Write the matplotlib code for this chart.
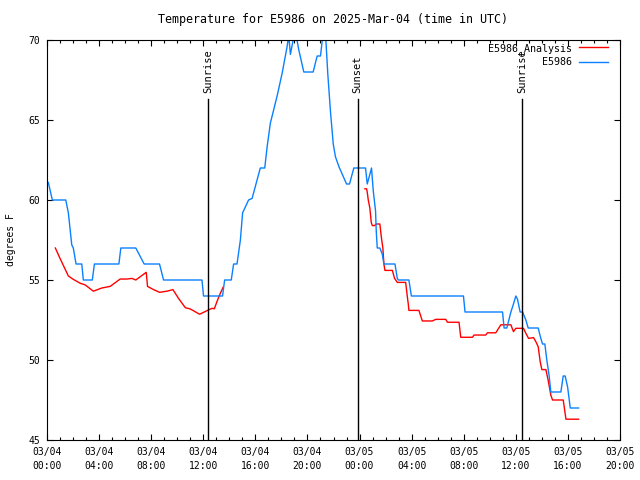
import matplotlib

matplotlib.use("Agg")

import matplotlib.pyplot as plt
import numpy as np

# hours since 2025-03-04 00:00 UTC
obs_hours = [
    0.1, 0.41, 1.44, 1.64, 1.9, 2.02, 2.23, 2.67, 2.79, 3.48, 3.64, 5.52, 5.67,
    6.82, 7.46, 8.64, 8.95, 11.9, 12.02, 13.48, 13.64, 14.15, 14.33, 14.59,
    14.85, 15.02, 15.48, 15.75, 16.38, 16.72, 16.9, 17.15, 17.67, 18.05, 18.44,
    18.56, 18.69, 18.9, 19.13, 19.33, 19.72, 20.44, 20.62, 20.75, 21.0, 21.21,
    21.38, 21.56, 21.77, 21.98, 22.15, 22.41, 23.0, 23.23, 23.56, 24.46, 24.59,
    24.79, 24.92, 25.05, 25.23, 25.28, 25.36, 25.56, 25.75, 25.87, 26.72, 26.9,
    26.98, 27.79, 27.98, 31.98, 32.1, 34.98, 35.1, 35.31, 35.62, 35.82, 36.0,
    36.13, 36.33, 36.52, 36.77, 36.95, 37.72, 37.87, 38.05, 38.23, 38.38, 38.56,
    38.69, 39.46, 39.64, 39.79, 39.98, 40.18, 40.82,
]
obs_temp = [
    61.1, 60, 60, 59.2, 57.2, 57, 56, 56, 55, 55, 56, 56, 57,
    57, 56, 56, 55, 55, 54, 54, 55, 55, 56, 56,
    57.5, 59.2, 60, 60.1, 62, 62, 63.3, 64.8, 66.5, 67.9, 69.6,
    70.3, 69.1, 70, 70.3, 69.4, 68, 68, 68.6, 69, 69, 70.5,
    70.5, 67.9, 65.5, 63.5, 62.7, 62.1, 61, 61, 62, 62, 61,
    61.6, 62, 60.6, 59.3, 58.1, 57, 57, 56.6, 56, 56, 55.1,
    55, 55, 54, 54, 53, 53, 52, 52, 53, 53.5, 54,
    53.8, 53, 53, 52.5, 52, 52, 51.5, 51, 51, 50, 49,
    48, 48, 49, 49, 48.3, 47, 47,
]

# analysis series, NaN marks the gap in the data
ana_hours = [
    0.64, 1.0, 1.64, 2.02, 2.54, 2.92, 3.56, 4.21, 4.85, 5.62, 6.13, 6.52, 6.82,
    7.15, 7.62, 7.72, 8.18, 8.64, 9.21, 9.67, 10.1, 10.62, 11.0, 11.72, 12.28,
    12.67, 12.85, 13.05, 13.31, 13.52, 18.0,
    24.41, 24.54, 24.59, 24.67, 24.79, 24.9, 24.98, 25.15, 25.28, 25.56, 25.67,
    25.79, 25.87, 25.95, 26.52, 26.69, 26.9, 27.54, 27.67, 27.75, 27.79, 28.56,
    28.82, 29.59, 29.85, 30.62, 30.75, 31.64, 31.77, 32.67, 32.79, 33.69, 33.82,
    34.46, 34.85, 35.62, 35.82, 36.0, 36.59, 36.77, 36.98, 37.36, 37.54, 37.72,
    37.87, 38.0, 38.31, 38.48, 38.69, 38.82, 39.64, 39.85, 40.82,
]
ana_temp = [
    57.0, 56.35, 55.25, 55.04, 54.8, 54.7, 54.3, 54.5, 54.6, 55.06, 55.06, 55.1, 55.0,
    55.2, 55.48, 54.6, 54.4, 54.23, 54.3, 54.4, 53.85, 53.27, 53.19, 52.86, 53.08,
    53.23, 53.2, 53.65, 54.17, 54.54, np.nan,
    60.7, 60.7, 60.5, 60.0, 59.5, 58.6, 58.4, 58.4, 58.5, 58.5, 57.7,
    57.0, 56.0, 55.6, 55.6, 55.1, 54.85, 54.85, 53.96, 53.44, 53.1, 53.1,
    52.44, 52.44, 52.54, 52.54, 52.36, 52.36, 51.42, 51.42, 51.56, 51.56, 51.7,
    51.7, 52.2, 52.2, 51.77, 51.98, 51.98, 51.67, 51.35, 51.4, 51.14, 50.83,
    49.9, 49.4, 49.4, 48.75, 47.8, 47.5, 47.5, 46.3, 46.3,
]

sun_labels = ["Sunrise", "Sunset", "Sunrise"]
sun_hours = [12.38, 23.85, 36.46]

tick_hours = list(range(0, 45, 4))
tick_labels = [
    "03/04\n00:00", "03/04\n04:00", "03/04\n08:00", "03/04\n12:00",
    "03/04\n16:00", "03/04\n20:00", "03/05\n00:00", "03/05\n04:00",
    "03/05\n08:00", "03/05\n12:00", "03/05\n16:00", "03/05\n20:00",
]

plt.rcParams["font.family"] = ["DejaVu Sans Mono"]
plt.rcParams["font.size"] = 7

fig = plt.figure(figsize=(6.4, 4.8), dpi=100)
ax = fig.add_axes([47 / 640, 40 / 480, 573 / 640, 400 / 480])

ax.plot(ana_hours, ana_temp, color="#ff0000", lw=1.0, label="E5986_Analysis")
ax.plot(obs_hours, obs_temp, color="#0a80ff", lw=1.0, label="E5986")

for name, hour in zip(sun_labels, sun_hours):
    ax.axvline(hour, ymin=0, ymax=0.853, color="black", lw=1.0)
    ax.text(hour, 0.867, name, transform=ax.get_xaxis_transform(),
            rotation=90, ha="center", va="bottom", fontsize=7.5)

ax.set_xlim(0, 44)
ax.set_ylim(45, 70)
ax.set_xticks(tick_hours)
ax.set_xticklabels(tick_labels, linespacing=1.5)
ax.set_xticks(range(0, 45), minor=True)
ax.set_yticks(range(45, 71, 5))

ax.tick_params(which="both", direction="in", top=True, right=True, width=0.8)
ax.tick_params(which="major", length=4, pad=5)
ax.tick_params(which="minor", length=2.2)
for spine in ax.spines.values():
    spine.set_linewidth(0.8)

ax.set_ylabel("degrees F", labelpad=9)
ax.set_title("Temperature for E5986 on 2025-Mar-04 (time in UTC)", pad=12)

ax.legend(loc="upper right", bbox_to_anchor=(0.985, 1.0), frameon=False,
          markerfirst=False, handlelength=2.9, handletextpad=0.7,
          labelspacing=0.35, borderaxespad=0.0, borderpad=0.3, fontsize=7.2)

fig.savefig("out.png", dpi=100)
